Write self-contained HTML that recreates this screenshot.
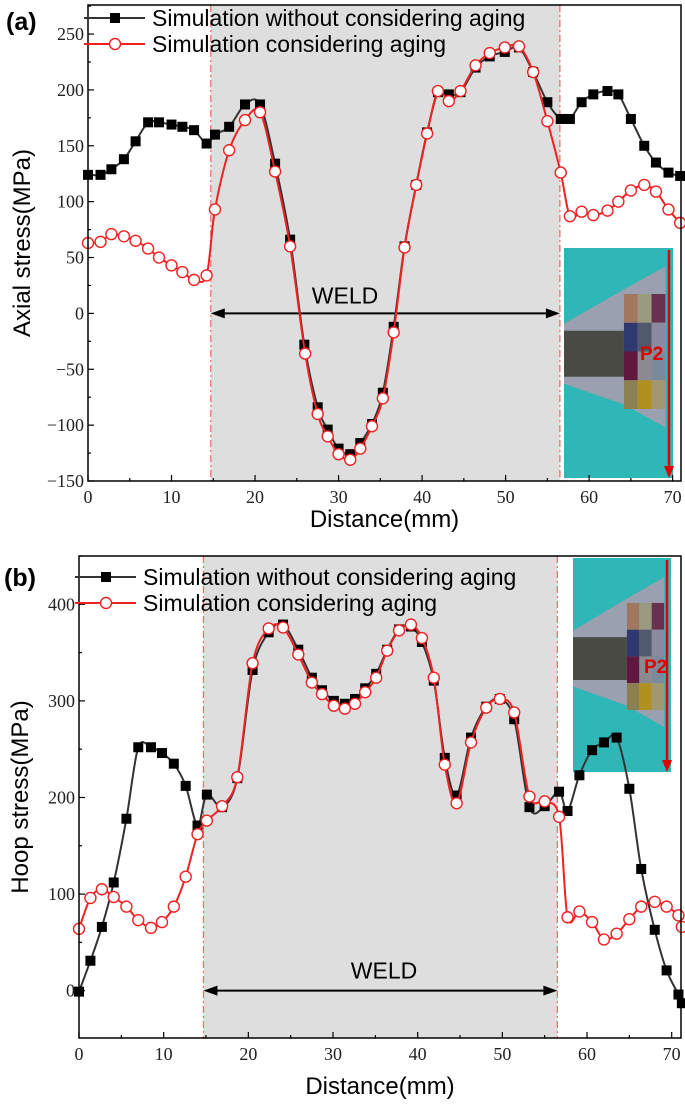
<!DOCTYPE html>
<html><head><meta charset="utf-8"><style>
body{margin:0;background:#fff;width:685px;height:1108px;overflow:hidden}
svg{display:block}
.tk{font-family:"Liberation Serif",serif;font-size:18px;fill:#222}
.ttl{font-family:"Liberation Sans","DejaVu Sans",sans-serif;font-size:23px;fill:#000}
.yttl{font-family:"Liberation Sans","DejaVu Sans",sans-serif;font-size:24px;fill:#000}
.lg{font-family:"Liberation Sans","DejaVu Sans",sans-serif;font-size:23px;fill:#000}
</style></head><body>
<svg id="fig" width="685" height="1108" xmlns="http://www.w3.org/2000/svg"></svg>
<script>
// Panel (a) axial stress
const aBlackX=[0,1.5,2.8,4.3,5.7,7.2,8.5,10,11.3,12.7,14.2,15.2,16.9,18.8,20.6,22.4,24.2,25.9,27.5,28.7,30,31.4,32.6,34,35.3,36.6,37.9,39.3,40.6,41.9,43.2,44.6,46.4,48.1,49.9,51.6,53.3,55,56.6,57.7,59.1,60.5,62.2,63.5,65,66.6,68,69.5,70.9];
const aBlackY=[124,124,129,138,154,171,171,169,167,164,152,160,167,187,187,134,66,-28,-84,-104,-121,-126,-116,-99,-71,-12,60,115,162,198,196,198,220,230,234,238,216,189,174,174,189,196,199,196,174,150,135,126,123];
const aRedX=[0,1.5,2.8,4.3,5.7,7.2,8.5,10,11.3,12.7,14.2,15.2,16.9,18.8,20.6,22.4,24.2,26,27.5,28.7,30,31.4,32.6,34,35.3,36.6,37.9,39.3,40.6,41.9,43.2,44.6,46.4,48.1,49.9,51.6,53.3,55,56.6,57.7,59.1,60.5,62.2,63.5,65,66.6,68,69.5,70.9];
const aRedY=[63,64,71,69,65,58,50,43,37,30,34,93,146,173,180,127,60,-36,-90,-110,-126,-131,-121,-101,-76,-17,59,115,161,199,190,199,222,233,238,239,216,172,126,87,91,88,92,100,110,115,109,93,81];
const aYTicks=[-150,-100,-50,0,50,100,150,200,250];
const xTicks=[0,10,20,30,40,50,60,70];
// Panel (b) hoop stress
const bBlackX=[0,1.35,2.7,4.1,5.6,7,8.5,9.8,11.2,12.6,14,15.1,16.9,18.7,20.5,22.4,24.1,25.9,27.5,28.7,30.1,31.4,32.6,33.8,35.1,36.4,37.8,39.2,40.5,41.9,43.2,44.6,46.3,48.1,49.7,51.4,53.2,55,56.7,57.7,59.1,60.6,62,63.5,65,66.4,68,69.4,70.8,71.2];
const bBlackY=[-1,31,66,112,178,252,252,246,235,212,171,203,190,220,332,371,379,353,324,311,300,297,302,313,328,353,374,377,361,321,241,202,262,294,302,281,190,191,206,186,223,249,257,262,209,126,63,21,-4,-13];
const bRedX=[0,1.35,2.7,4.1,5.6,7,8.5,9.8,11.2,12.6,14,15.1,16.9,18.7,20.5,22.4,24.1,25.9,27.5,28.7,30.1,31.4,32.6,33.8,35.1,36.4,37.8,39.2,40.5,41.9,43.2,44.6,46.3,48.1,49.7,51.4,53.2,55,56.7,57.7,59.1,60.6,62,63.5,65,66.4,68,69.4,70.8,71.2];
const bRedY=[64,96,105,97,87,73,65,71,87,118,162,176,191,221,339,375,376,348,319,307,295,292,297,309,324,352,373,379,365,324,234,194,257,293,302,288,201,196,180,76,82,71,53,59,74,87,92,87,78,66];
const bYTicks=[0,100,200,300,400];
const weldStart=14.7, weldEnd=56.5;

const NS='http://www.w3.org/2000/svg';
const svg=document.getElementById('fig');
function mk(tag,attrs,parent){const e=document.createElementNS(NS,tag);for(const k in attrs)e.setAttribute(k,attrs[k]);(parent||svg).appendChild(e);return e;}
function smooth(pts){let d='M'+pts[0][0]+','+pts[0][1];for(let i=0;i<pts.length-1;i++){const p0=pts[Math.max(0,i-1)],p1=pts[i],p2=pts[i+1],p3=pts[Math.min(pts.length-1,i+2)];const t=0.16;d+=' C'+(p1[0]+(p2[0]-p0[0])*t)+','+(p1[1]+(p2[1]-p0[1])*t)+' '+(p2[0]-(p3[0]-p1[0])*t)+','+(p2[1]-(p3[1]-p1[1])*t)+' '+p2[0]+','+p2[1];}return d;}

function panel(cfg){
  const g=mk('g',{});
  
  
  const X=v=>cfg.L+(v-cfg.x0)/(cfg.x1-cfg.x0)*(cfg.R-cfg.L);
  const Y=v=>cfg.B-(v-cfg.y0)/(cfg.y1-cfg.y0)*(cfg.B-cfg.T);
  const weld=mk('rect',{x:X(weldStart),y:cfg.T,width:X(weldEnd)-X(weldStart),height:cfg.B-cfg.T,fill:'#dedede'},g);
  
  
  [weldStart,weldEnd].forEach(w=>{const l=mk('line',{x1:X(w),x2:X(w),y1:cfg.T,y2:cfg.B,stroke:'#f07070','stroke-width':1.3,'stroke-dasharray':'7,3,2,3'},g);
    
    });
  // inset
  const ins=mk('g',{},g);
  
  
  const ix=cfg.inset[0],iy=cfg.inset[1],iw=cfg.inset[2],ih=cfg.inset[3];
  mk('rect',{x:ix,y:iy,width:iw,height:ih,fill:'#2fb6b6'},ins);
  const cy=iy+ih*cfg.midf;
  mk('polygon',{points:`${ix},${cy-ih*0.13} ${ix+iw*0.55},${cy-ih*0.28} ${ix+iw*0.93},${cy-ih*0.38} ${ix+iw*0.93},${cy+ih*0.32} ${ix+iw*0.55},${cy+ih*0.22} ${ix},${cy+ih*0.13}`,fill:'#9aa0b0'},ins);
  mk('polygon',{points:`${ix},${cy-ih*0.1} ${ix+iw*0.55},${cy-ih*0.1} ${ix+iw*0.55},${cy+ih*0.1} ${ix},${cy+ih*0.1}`,fill:'#4a4a44'},ins);
  const cols=[['#a07860','#9a9a80','#6a3050'],['#303870','#505a6a','#8a8aa0'],['#601840','#8a8a90','#7a8a9a'],['#8a8050','#b09020','#a09870']];
  const bx=ix+iw*0.55,bw=iw*0.38/3,bh=ih*0.5/4,by=cy-ih*0.26;
  cols.forEach((r,ri)=>r.forEach((c,ci)=>mk('rect',{x:bx+ci*bw,y:by+ri*bh,width:bw,height:bh,fill:c},ins)));
  mk('line',{x1:ix+iw-4,x2:ix+iw-4,y1:iy+2,y2:iy+ih-8,stroke:'#e00000','stroke-width':2.5},ins);
  mk('polygon',{points:`${ix+iw-9},${iy+ih-12} ${ix+iw+1},${iy+ih-12} ${ix+iw-4},${iy+ih}`,fill:'#e00000'},ins);
  const p2=mk('text',{x:cfg.p2[0],y:cfg.p2[1],fill:'#e00000','font-family':'Liberation Sans,sans-serif','font-size':19,'font-weight':'bold'},ins);p2.textContent='P2';
  // weld arrow
  const ay=Y(0);
  const wa=mk('g',{},g);
  
  
  mk('line',{x1:X(weldStart)+10,x2:X(weldEnd)-10,y1:ay,y2:ay,stroke:'#000','stroke-width':2},wa);
  mk('polygon',{points:`${X(weldStart)},${ay} ${X(weldStart)+14},${ay-5} ${X(weldStart)+14},${ay+5}`,fill:'#000'},wa);
  mk('polygon',{points:`${X(weldEnd)},${ay} ${X(weldEnd)-14},${ay-5} ${X(weldEnd)-14},${ay+5}`,fill:'#000'},wa);
  const wt=mk('text',{x:cfg.weldX,y:ay-cfg.weldDy,'text-anchor':'middle',class:'ttl'},g);wt.textContent='WELD';
  
  
  // series
  const series=[[cfg.bx,cfg.by,'#333','black'],[cfg.rx,cfg.ry,'#ee2222','red']];
  series.forEach(s=>{
    const pts=s[0].map((v,i)=>[X(v),Y(s[1][i])]);
    const p=mk('path',{d:smooth(pts),fill:'none',stroke:s[2],'stroke-width':2},g);
    
    
    pts.forEach(q=>{
      let m;
      if(s[3]==='black'){m=mk('rect',{x:q[0]-5,y:q[1]-5,width:10,height:10,fill:'#000'},g);
        }
      else{m=mk('circle',{cx:q[0],cy:q[1],r:5.5,fill:'#fff',stroke:'#ee2222','stroke-width':1.4},g);
        }
      
    });
  });
  // axes
  const fr=mk('rect',{x:cfg.L,y:cfg.T,width:cfg.R-cfg.L,height:cfg.B-cfg.T,fill:'none',stroke:'#000','stroke-width':1.5},g);
  
  
  for(let v=0;v<=70;v+=5){const x=X(v);mk('line',{x1:x,x2:x,y1:cfg.B,y2:cfg.B-(v%10?3:6),stroke:'#000','stroke-width':1.2},g);}
  xTicks.forEach(v=>{const t=mk('text',{x:X(v),y:cfg.B+cfg.xlabDy,'text-anchor':'middle',class:'tk'},g);t.textContent=v;
    
    });
  const st=cfg.ystep/2;
  for(let v=Math.ceil(cfg.y0/st)*st;v<=cfg.y1;v+=st){const y=Y(v);mk('line',{x1:cfg.L,x2:cfg.L+(Math.round(v/st)%2?3:6),y1:y,y2:y,stroke:'#000','stroke-width':1.2},g);}
  cfg.yt.forEach(v=>{const t=mk('text',{x:cfg.L-4,y:Y(v)+6,'text-anchor':'end',class:'tk'},g);t.textContent=v<0?'\u2212'+(-v):v;
    
    });
  const xt=mk('text',{x:(cfg.L+cfg.R)/2,y:cfg.xtY,'text-anchor':'middle',class:'yttl'},g);xt.textContent='Distance(mm)';
  
  
  const yt=mk('text',{x:0,y:0,'text-anchor':'middle',class:'yttl',transform:`translate(${cfg.ytX},${(cfg.T+cfg.B)/2}) rotate(-90)`},g);yt.textContent=cfg.ytitle;
  
  
  // legend
  const lg=mk('g',{},g);
  
  
  const ly=cfg.legY;
  mk('line',{x1:cfg.L-4,x2:cfg.L+57,y1:ly,y2:ly,stroke:'#333','stroke-width':2},lg);
  mk('rect',{x:cfg.L+22,y:ly-5,width:10,height:10,fill:'#000'},lg);
  mk('line',{x1:cfg.L-4,x2:cfg.L+57,y1:ly+26,y2:ly+26,stroke:'#ee2222','stroke-width':2},lg);
  mk('circle',{cx:cfg.L+27,cy:ly+26,r:5.5,fill:'#fff',stroke:'#ee2222','stroke-width':1.4},lg);
  const l1=mk('text',{x:cfg.L+64,y:ly+8,class:'lg'},lg);l1.textContent='Simulation without considering aging';
  
  
  const l2=mk('text',{x:cfg.L+64,y:ly+34,class:'lg'},lg);l2.textContent='Simulation considering aging';
  
  
  const pl=mk('text',{x:cfg.plX,y:cfg.plY,'font-family':'Liberation Sans,sans-serif','font-size':25,'font-weight':'bold'},g);pl.textContent=cfg.plabel;
  
  
}
panel({name:'panel-a-axial-stress',L:88,R:681,T:5,B:481,x0:0,x1:71,y0:-150,y1:276,ystep:50,yt:aYTicks,
  bx:aBlackX,by:aBlackY,rx:aRedX,ry:aRedY,inset:[564,248,109,230],midf:0.46,p2:[640,360],
  weldX:345,weldDy:10,xlabDy:22,xtY:527,ytX:30,ytitle:'Axial stress(MPa)',legY:18,plX:6,plY:30,plabel:'(a)'});
panel({name:'panel-b-hoop-stress',L:79,R:681,T:556,B:1038,x0:0,x1:71.1,y0:-49,y1:450,ystep:100,yt:bYTicks,
  bx:bBlackX,by:bBlackY,rx:bRedX,ry:bRedY,inset:[573,558,98,214],midf:0.47,p2:[644,673],
  weldX:384,weldDy:12,xlabDy:22,xtY:1094,ytX:28,ytitle:'Hoop stress(MPa)',legY:577,plX:4,plY:586,plabel:'(b)'});
</script>
</body></html>
